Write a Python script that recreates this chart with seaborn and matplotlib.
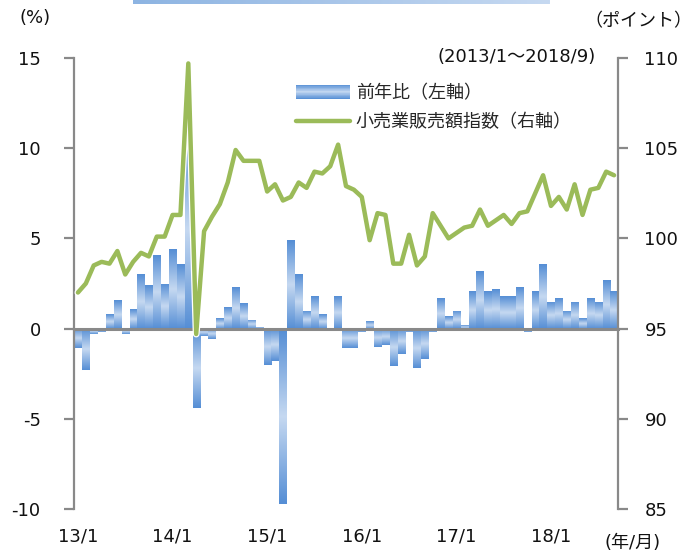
import numpy as np
import pandas as pd
import matplotlib
matplotlib.use("Agg")
import matplotlib.pyplot as plt
import seaborn as sns
import matplotlib.patheffects as pe
from matplotlib.colors import LinearSegmentedColormap
from matplotlib.patches import Patch, Rectangle
from matplotlib.lines import Line2D

# ---------------- data ----------------
months = [f"{y}/{m}" for y in range(2013, 2019) for m in range(1, 13)][:69]

yoy = [
    -1.1, -2.3, -0.3, -0.2, 0.8, 1.6, -0.3, 1.1, 3.0, 2.4, 4.1, 2.5,      # 2013
    4.4, 3.6, 11.0, -4.4, -0.4, -0.6, 0.6, 1.2, 2.3, 1.4, 0.5, 0.1,       # 2014
    -2.0, -1.8, -9.7, 4.9, 3.0, 1.0, 1.8, 0.8, -0.1, 1.8, -1.1, -1.1,     # 2015
    -0.2, 0.4, -1.0, -0.9, -2.1, -1.4, -0.2, -2.2, -1.7, -0.2, 1.7, 0.7,  # 2016
    1.0, 0.2, 2.1, 3.2, 2.1, 2.2, 1.8, 1.8, 2.3, -0.2, 2.1, 3.6,          # 2017
    1.5, 1.7, 1.0, 1.5, 0.6, 1.7, 1.5, 2.7, 2.1,                          # 2018
]

index_vals = [
    97.0, 97.5, 98.5, 98.7, 98.6, 99.3, 98.0, 98.7, 99.2, 99.0, 100.1, 100.1,
    101.3, 101.3, 109.7, 94.7, 100.4, 101.2, 101.9, 103.1, 104.9, 104.3, 104.3, 104.3,
    102.6, 103.0, 102.1, 102.3, 103.1, 102.8, 103.7, 103.6, 104.0, 105.2, 102.9, 102.7,
    102.3, 99.9, 101.4, 101.3, 98.6, 98.6, 100.2, 98.5, 99.0, 101.4, 100.7, 100.0,
    100.3, 100.6, 100.7, 101.6, 100.7, 101.0, 101.3, 100.8, 101.4, 101.5, 102.5, 103.5,
    101.8, 102.3, 101.6, 103.0, 101.3, 102.7, 102.8, 103.7, 103.5,
]

year_labels = ["13/1", "14/1", "15/1", "16/1", "17/1", "18/1"]
left_ticks = [-10, -5, 0, 5, 10, 15]
right_ticks = [85, 90, 95, 100, 105, 110]
bar_label = "前年比（左軸）"
line_label = "小売業販売額指数（右軸）"

df = pd.DataFrame({"pos": list(range(len(months))), "month": months,
                   "yoy": yoy, "index": index_vals})

# ---------------- style ----------------
sns.set_theme(style="white")
plt.rcParams['font.family'] = ['DejaVu Sans', 'Noto Sans CJK JP']
FS = 13
GRAY = "#898989"
GREEN = "#9BBB59"
TXT = "#111111"

W, H = 696, 556
fig = plt.figure(figsize=(W / 100, H / 100), dpi=100)
ax = fig.add_axes([74 / W, 1 - 509 / H, 544 / W, 451 / H])
ax.set_facecolor("none")

# ---------------- bars ----------------
sns.barplot(data=df, x="pos", y="yoy", ax=ax, color="#8DB3E2",
            width=0.92, saturation=1, errorbar=None)

cmap = LinearSegmentedColormap.from_list("g", ["#558ED5", "#C6D9F1", "#558ED5"])
grad = np.linspace(0, 1, 128).reshape(-1, 1)
for p in list(ax.patches):
    x0 = p.get_x(); w = p.get_width()
    y0 = p.get_y(); h = p.get_height()
    ylo, yhi = min(y0, y0 + h), max(y0, y0 + h)
    im = ax.imshow(grad, cmap=cmap, extent=[x0, x0 + w, ylo, yhi],
                   aspect="auto", origin="lower", interpolation="bicubic",
                   zorder=p.get_zorder() + 0.1)
    im.set_clip_path(p)

ax.set_xlim(-0.5, len(months) - 0.5)
ax.set_ylim(-10, 15)
ax.set_yticks(left_ticks)
ax.set_yticklabels([str(t) for t in left_ticks], fontsize=FS)
ax.set_xlabel(""); ax.set_ylabel("")

for s in ["top", "right"]:
    ax.spines[s].set_visible(False)
ax.spines["left"].set_color(GRAY); ax.spines["left"].set_linewidth(1.6)
ax.spines["bottom"].set_position(("data", 0))
ax.spines["bottom"].set_color(GRAY); ax.spines["bottom"].set_linewidth(2.2)
ax.spines["bottom"].set_zorder(5)

boundaries = [12 * k - 0.5 for k in range(1, 6)]
ax.set_xticks(boundaries)
ax.set_xticklabels([""] * len(boundaries))
ax.tick_params(axis="x", direction="out", length=5, width=1.6, color=GRAY)
ax.tick_params(axis="y", direction="out", length=7, width=1.6, color=GRAY,
               pad=17, labelcolor=TXT)

sec = ax.secondary_xaxis(0)
sec.set_xticks([12 * k for k in range(6)])
sec.set_xticklabels(year_labels, fontsize=FS, color=TXT)
sec.tick_params(length=0, pad=13)
sec.spines["bottom"].set_visible(False)

# ---------------- line ----------------
ax2 = ax.twinx()
sns.lineplot(data=df, x="pos", y="index", ax=ax2, color=GREEN, linewidth=3.2,
             path_effects=[pe.Stroke(linewidth=5, foreground="white"), pe.Normal()])
ax2.set_ylim(85, 110)
ax2.set_xlim(-0.5, len(months) - 0.5)
ax2.set_yticks(right_ticks)
ax2.set_yticklabels([str(t) for t in right_ticks], fontsize=FS)
ax2.set_xlabel(""); ax2.set_ylabel("")
for s in ["top", "left", "bottom"]:
    ax2.spines[s].set_visible(False)
ax2.spines["right"].set_color(GRAY); ax2.spines["right"].set_linewidth(1.6)
ax2.tick_params(axis="y", direction="out", length=7, width=1.6, color=GRAY,
                pad=12, labelcolor=TXT)


# ---------------- legend ----------------
class GradientHandler:
    def legend_artist(self, legend, orig_handle, fontsize, handlebox):
        x0, y0 = handlebox.xdescent, handlebox.ydescent
        w, h = handlebox.width, handlebox.height
        n = 24
        for i in range(n):
            c = cmap((i + 0.5) / n)
            r = Rectangle((x0, y0 - 0.5 + i * (h + 1) / n), w, (h + 1) / n + 0.05,
                          facecolor=c, edgecolor="none",
                          transform=handlebox.get_transform())
            handlebox.add_artist(r)
        return r


bar_handle = Patch(facecolor="#8DB3E2")
line_handle = Line2D([], [], color=GREEN, linewidth=3.2)
leg = ax2.legend([bar_handle, line_handle], [bar_label, line_label], loc="upper left",
                 bbox_to_anchor=(296 / W, 1 - 84 / H), bbox_transform=fig.transFigure,
                 frameon=False, fontsize=FS, handlelength=3.0, handletextpad=0.3,
                 labelspacing=0.62, borderpad=0, borderaxespad=0,
                 handler_map={Patch: GradientHandler()})

# ---------------- texts ----------------
fig.text(35 / W, 1 - 18 / H, "(%)", ha="center", va="center", fontsize=FS, color=TXT)
fig.text(596 / W, 1 - 57 / H, "(2013/1～2018/9)", ha="right", va="center",
         fontsize=FS, color=TXT)
fig.text(692 / W, 1 - 21 / H, "（ポイント）", ha="right", va="center",
         fontsize=FS, color=TXT)
fig.text(633 / W, 1 - 543 / H, "(年/月)", ha="center", va="center",
         fontsize=FS, color=TXT)

# decorative strip at the top
strip = fig.add_axes([133 / W, 1 - 4 / H, 417 / W, 4 / H])
strip.imshow(np.linspace(0, 1, 256).reshape(1, -1), aspect="auto",
             cmap=LinearSegmentedColormap.from_list("s", ["#8DB4E2", "#C6D9F1"]))
strip.axis("off")

fig.savefig("out.png", dpi=100)
